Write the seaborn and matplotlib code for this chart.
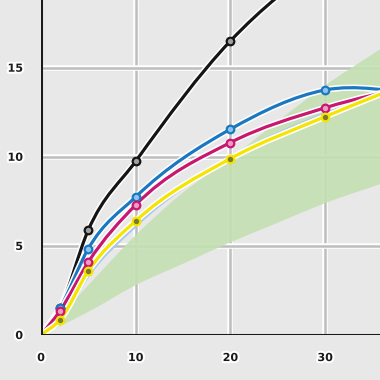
import numpy as np
import pandas as pd
import matplotlib
matplotlib.use("Agg")
import matplotlib.pyplot as plt
import seaborn as sns
from matplotlib.path import Path
from matplotlib.patches import PathPatch
import matplotlib.patheffects as pe

# ---------------- data ----------------
x_ticks = [0, 10, 20, 30]
y_ticks = [0, 5, 10, 15]
pts_x = [0, 2, 5, 10, 20, 30, 40]
black = [0, 1.5, 5.9, 9.75, 16.5, 21.0, 24.0]
blue = [0, 1.5, 4.85, 7.75, 11.55, 13.75, 13.6]
magenta = [0, 1.35, 4.1, 7.3, 10.8, 12.75, 14.1]
yellow = [0, 0.85, 3.6, 6.4, 9.9, 12.25, 14.4]
lightblue = [0, 0.7, 3.3, 6.1, 9.95, 12.45, 14.3]
band_x = [0, 2, 5, 10, 15, 20, 25, 30, 36]
band_upper = [0, 1.1, 2.8, 5.6, 8.0, 9.9, 12.0, 14.0, 16.1]
band_lower = [0, 0.5, 1.3, 2.8, 4.0, 5.2, 6.3, 7.4, 8.5]

series = [
    ("black", black, "#151515", "#a0a0a0"),
    ("blue", blue, "#1a78c2", "#8cc4ec"),
    ("magenta", magenta, "#c8176f", "#ee9cc4"),
    ("yellow", yellow, "#f4e400", "#7a7a30"),
]

BG = "#e8e8e8"
sns.set_style("white", {"axes.facecolor": BG, "figure.facecolor": BG})
plt.rcParams["font.family"] = ["DejaVu Sans"]


def bezier_path(xs, ys):
    """Smooth cubic Hermite curve through the points, as Bezier segments."""
    x = np.asarray(xs, float)
    y = np.asarray(ys, float)
    n = len(x)
    m = np.empty(n)
    m[0] = (y[1] - y[0]) / (x[1] - x[0])
    m[-1] = (y[-1] - y[-2]) / (x[-1] - x[-2])
    for i in range(1, n - 1):
        d0 = (y[i] - y[i - 1]) / (x[i] - x[i - 1])
        d1 = (y[i + 1] - y[i]) / (x[i + 1] - x[i])
        h0 = x[i] - x[i - 1]
        h1 = x[i + 1] - x[i]
        m[i] = (d0 * h1 + d1 * h0) / (h0 + h1)
    verts = [(x[0], y[0])]
    codes = [Path.MOVETO]
    for i in range(n - 1):
        h = x[i + 1] - x[i]
        verts += [(x[i] + h / 3, y[i] + m[i] * h / 3),
                  (x[i + 1] - h / 3, y[i + 1] - m[i + 1] * h / 3),
                  (x[i + 1], y[i + 1])]
        codes += [Path.CURVE4] * 3
    return verts, codes


fig = plt.figure(figsize=(3.8, 3.8), dpi=100)
ax = fig.add_axes([41 / 380, 45 / 380, 1 - 41 / 380, 1 - 45 / 380])
ax.set_xlim(0, 35.8)
ax.set_ylim(0, 18.8)

# grid
for gx in x_ticks[1:]:
    ax.axvline(gx, color="#bdbdbd", lw=1.8, zorder=1,
               path_effects=[pe.Stroke(linewidth=4, foreground="white"), pe.Normal()])
for gy in y_ticks[1:]:
    ax.axhline(gy, color="#bdbdbd", lw=1.8, zorder=1,
               path_effects=[pe.Stroke(linewidth=4, foreground="white"), pe.Normal()])

# band
uv, uc = bezier_path(band_x, band_upper)
lv, lc = bezier_path(band_x[::-1], band_lower[::-1])
verts = uv + [lv[0]] + lv[1:] + [uv[0]]
codes = uc + [Path.LINETO] + lc[1:] + [Path.CLOSEPOLY]
ax.add_patch(PathPatch(Path(verts, codes), facecolor="#c4e0b2", edgecolor="none",
                       alpha=0.9, zorder=2))

# thin light-blue line
v, c = bezier_path(pts_x, lightblue)
ax.add_patch(PathPatch(Path(v, c), facecolor="none", edgecolor="#a9c9ea", lw=1.6, zorder=3))

halo = [pe.Stroke(linewidth=4.6, foreground="white"), pe.Normal()]
for k, (name, vals, col, fill) in enumerate(series):
    v, c = bezier_path(pts_x, vals)
    ax.add_patch(PathPatch(Path(v, c), facecolor="none", edgecolor=col, lw=2.3,
                           zorder=4 + k, path_effects=halo, capstyle="round"))

df = pd.concat([pd.DataFrame({"x": pts_x[1:], "y": vals[1:], "s": name})
                for name, vals, _, _ in series])
for k, (name, vals, col, fill) in enumerate(series):
    sub = df[df.s == name]
    sns.scatterplot(data=sub, x="x", y="y", ax=ax, marker="o", s=30,
                    color=fill, edgecolor=col, linewidth=1.6, zorder=8 + k,
                    legend=False, clip_on=True)

# axes lines
ax.axhline(0, color="#1a1a1a", lw=2.2, zorder=12)
ax.axvline(0, color="#1a1a1a", lw=2.2, zorder=12)
for s in ax.spines.values():
    s.set_visible(False)

ax.set_xticks(x_ticks)
ax.set_yticks(y_ticks)
ax.tick_params(axis="both", length=7, width=1.5, color="#b0b0b0", pad=6,
               labelsize=8, labelcolor="#1a1a1a")
glow = [pe.withStroke(linewidth=3, foreground="white")]
for lab in ax.get_xticklabels() + ax.get_yticklabels():
    lab.set_fontweight("bold")
    lab.set_path_effects(glow)
ax.set_xlabel("")
ax.set_ylabel("")

fig.savefig("out.png", dpi=100, facecolor=BG)
